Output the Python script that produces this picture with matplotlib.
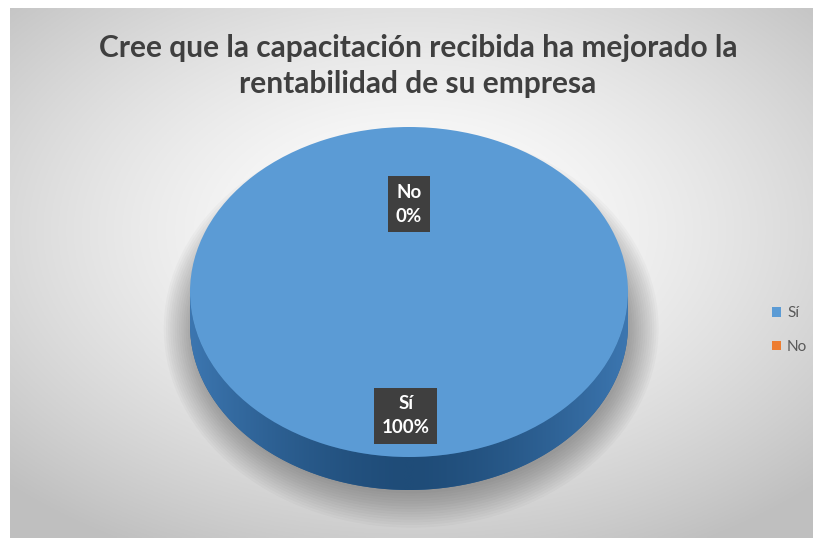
import numpy as np
import matplotlib
matplotlib.use("Agg")
import matplotlib.pyplot as plt
from matplotlib.patches import Rectangle, Ellipse, Polygon

# respuestas de la encuesta
categorias = ["Sí", "No"]
porcentajes = [100, 0]
colores = ["#5B9BD5", "#ED7D31"]
titulo = "Cree que la capacitación recibida ha mejorado la\nrentabilidad de su empresa"

W, H = 813, 538
fig = plt.figure(figsize=(W / 100, H / 100), dpi=100)
fig.patch.set_facecolor("white")

# fondo con degradado radial (blanco al centro, gris en los bordes)
bg = fig.add_axes([10 / W, 0, 1 - 10 / W, 1 - 8 / H])
yy, xx = np.mgrid[0:1:300j, 0:1:450j]
r = np.sqrt(((xx - 0.5) / 0.75) ** 2 + ((yy - 0.42) / 0.72) ** 2)
shade = 1.0 - 0.25 * np.clip(r / 0.95, 0, 1) ** 1.5
bg.imshow(np.dstack([shade] * 3), extent=[0, 1, 0, 1], aspect="auto", origin="upper")
bg.set_axis_off()

# ejes en unidades del radio de la elipse
cx, cy = 409, H - 292
rx, ry = 219, 165
depth = 33 / ry
ax = fig.add_axes([0, 0, 1, 1])

# sombra difusa bajo el disco
for k in range(14):
    ax.add_patch(Ellipse((0.01, -depth - 0.02), 2.0 + 0.02 * k, 2.0 + 0.032 * k,
                         color="black", alpha=0.024, lw=0, zorder=1))

# cara lateral del disco
ax.pie(porcentajes, colors=["#2E6193", "#B35F25"], radius=1, center=(0, -depth),
       startangle=90, counterclock=False, wedgeprops=dict(lw=0, zorder=2))
ax.add_patch(Rectangle((-1, -depth), 2, depth, color="#2E6193", lw=0, zorder=2))
t = np.linspace(np.pi, 2 * np.pi, 200)
lado = np.concatenate([np.c_[np.cos(t), np.sin(t)],
                       np.c_[np.cos(t[::-1]), np.sin(t[::-1]) - depth]])
clip = Polygon(lado, closed=True, transform=ax.transData, fc="none", lw=0)
ax.add_patch(clip)
gx = np.linspace(-1, 1, 300)
grad = 0.55 - 0.45 * (1 - np.abs(gx) ** 1.5)
cmap_lado = matplotlib.colors.LinearSegmentedColormap.from_list("lado", ["#1F4C78", "#3C76B0"])
im = ax.imshow(np.outer(np.ones(20), grad), extent=[-1, 1, -1 - depth, 0],
               aspect="auto", cmap=cmap_lado, vmin=0.1, vmax=0.55, zorder=3)
im.set_clip_path(clip)

# cara superior
wedges, _ = ax.pie(porcentajes, colors=colores, radius=1, center=(0, 0),
                   startangle=90, counterclock=False,
                   wedgeprops=dict(lw=0, zorder=4))
ax.set_xlim(-cx / rx, (W - cx) / rx)
ax.set_ylim(-cy / ry, (H - cy) / ry)
ax.set_aspect("auto")
ax.set_axis_off()

# etiquetas de datos
etiquetas = [(-0.014, -0.75), (0.0, 0.533)]
for (x, y), cat, p in zip(etiquetas, categorias, porcentajes):
    ax.text(x, y, f"{cat}\n{p}%", ha="center", va="center", color="white",
            fontsize=13.5, fontweight="bold", family="Lato", linespacing=1.5,
            zorder=6,
            bbox=dict(boxstyle="square,pad=0.4", fc="#3F3F3F", ec="none"))

fig.text(418 / W, 1 - 66 / H, titulo, ha="center", va="center", fontsize=21.5,
         color="#3F3F3F", family="Lato", fontweight="bold", linespacing=1.35)

fig.legend(wedges, categorias, loc="center left", bbox_to_anchor=(758 / W, 1 - 330 / H),
           frameon=False, handlelength=0.6, handleheight=0.6, handletextpad=0.4,
           labelspacing=1.3, prop=dict(family="Lato", size=11),
           labelcolor="#595959")

fig.savefig("out.png", dpi=100)
